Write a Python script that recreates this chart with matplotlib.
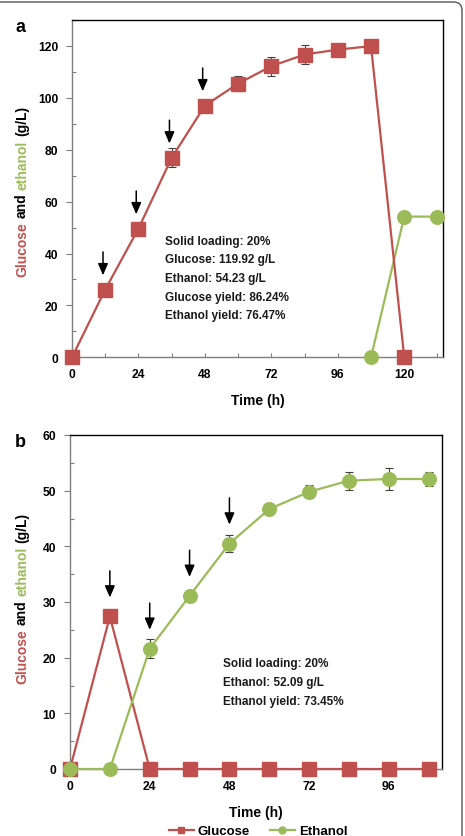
import matplotlib
matplotlib.use("Agg")
import matplotlib.pyplot as plt
from matplotlib.patches import FancyBboxPatch
from matplotlib.lines import Line2D
import numpy as np

plt.rcParams['font.family'] = ['Liberation Sans', 'DejaVu Sans']
plt.rcParams['font.weight'] = 'bold'

RED = '#C0504D'
GREEN = '#9BBB59'

# ---- Panel a data ----
a_glu_t = [0, 12, 24, 36, 48, 60, 72, 84, 96, 108, 120]
a_glu = [0, 26.1, 49.6, 76.9, 97.0, 105.5, 112.2, 116.7, 118.6, 119.92, 0]
a_glu_err = [0, 1.0, 1.0, 3.6, 2.0, 2.8, 3.6, 3.8, 2.0, 1.0, 0]
a_eth_t = [108, 120, 132]
a_eth = [0, 54.23, 54.23]
a_eth_err = [0, 0.5, 0.5]
a_arrow_t = [12, 24, 36, 48]
a_text = ["Solid loading: 20%", "Glucose: 119.92 g/L", "Ethanol: 54.23 g/L",
          "Glucose yield: 86.24%", "Ethanol yield: 76.47%"]
a_xticks = [0, 24, 48, 72, 96, 120]
a_yticks = [0, 20, 40, 60, 80, 100, 120]

# ---- Panel b data ----
b_t = [0, 12, 24, 36, 48, 60, 72, 84, 96, 108]
b_glu = [0, 27.4, 0, 0, 0, 0, 0, 0, 0, 0]
b_glu_err = [0, 1.0, 0, 0, 0, 0, 0, 0, 0, 0]
b_eth = [0, 0, 21.6, 31.1, 40.5, 46.7, 49.8, 51.8, 52.1, 52.09]
b_eth_err = [0, 0, 1.7, 1.0, 1.6, 1.0, 1.2, 1.6, 1.9, 1.2]
b_arrow_t = [12, 24, 36, 48]
b_text = ["Solid loading: 20%", "Ethanol: 52.09 g/L", "Ethanol yield: 73.45%"]
b_xticks = [0, 24, 48, 72, 96]
b_yticks = [0, 10, 20, 30, 40, 50, 60]

W, H = 465, 837
fig = plt.figure(figsize=(W / 100, H / 100), dpi=100)

# rounded figure border
border = FancyBboxPatch((-20 / W, -10 / H), 482 / W, (H - 3 + 10) / H,
                        boxstyle="round,pad=0,rounding_size=0.018",
                        transform=fig.transFigure, facecolor='none',
                        edgecolor='#555555', lw=1.0, mutation_aspect=W / H)
fig.patches.append(border)

ax_a = fig.add_axes([72 / W, 1 - 358.3 / H, 371 / W, 337.3 / H])
ax_b = fig.add_axes([70 / W, 1 - 770 / H, 372 / W, 334 / H])

ms = 9.8
lw = 1.6


def style_axes(ax, xlim, ylim, xticks, yticks, xminor, yminor):
    ax.set_xlim(*xlim)
    ax.set_ylim(*ylim)
    ax.set_xticks(xticks)
    ax.set_xticks(xminor, minor=True)
    ax.set_yticks(yticks)
    ax.set_yticks(yminor, minor=True)
    for s in ['top', 'right']:
        ax.spines[s].set_color('black')
        ax.spines[s].set_linewidth(1.0)
    for s in ['left', 'bottom']:
        ax.spines[s].set_color('#7f7f7f')
        ax.spines[s].set_linewidth(1.0)
    ax.tick_params(axis='y', which='major', direction='out', length=4,
                   width=0.8, color='#7f7f7f', labelsize=8.7, pad=6)
    ax.tick_params(axis='y', which='minor', direction='in', length=3,
                   width=0.8, color='#7f7f7f')
    ax.tick_params(axis='x', which='both', direction='in', length=3,
                   width=0.8, color='#7f7f7f', labelsize=8.7, pad=8)
    for lab in ax.get_xticklabels() + ax.get_yticklabels():
        lab.set_fontweight('bold')
    ax.set_xlabel("Time (h)", fontsize=10, fontweight='bold', labelpad=9)


def draw_series(ax, t, y, err, color, marker):
    ax.errorbar(t, y, yerr=err, fmt='none', ecolor='#404040', elinewidth=0.8,
                capsize=3, capthick=0.8, zorder=2)
    ax.plot(t, y, color=color, lw=lw, marker=marker, ms=ms,
            markerfacecolor=color, markeredgecolor=color, zorder=3,
            clip_on=False)


ARROW = dict(arrowstyle='-|>,head_width=0.3,head_length=0.7',
             color='black', lw=1.1, shrinkA=0, shrinkB=0)

# ---- Panel a ----
style_axes(ax_a, (0, 134), (0, 130), a_xticks, a_yticks,
           np.arange(0, 134, 12), np.arange(0, 131, 10))
draw_series(ax_a, a_eth_t, a_eth, a_eth_err, GREEN, 'o')
draw_series(ax_a, a_glu_t, a_glu, a_glu_err, RED, 's')
for t in a_arrow_t:
    v = a_glu[a_glu_t.index(t)]
    ax_a.annotate('', xy=(t - 0.8, v + 5.5), xytext=(t - 0.8, v + 14.5),
                  arrowprops=ARROW)
for i, s in enumerate(a_text):
    ax_a.text(33.5, 45 - i * 7.2, s, fontsize=8.5, fontweight='bold',
              va='center', ha='left', color='#1a1a1a')

# ---- Panel b ----
style_axes(ax_b, (0, 112), (0, 60), b_xticks, b_yticks,
           np.arange(0, 112, 12), np.arange(0, 61, 5))
draw_series(ax_b, b_t, b_glu, b_glu_err, RED, 's')
draw_series(ax_b, b_t, b_eth, b_eth_err, GREEN, 'o')
for t in b_arrow_t:
    i = b_t.index(t)
    v = max(b_glu[i], b_eth[i])
    ax_b.annotate('', xy=(t, v + 3.4), xytext=(t, v + 8.2), arrowprops=ARROW)
for i, s in enumerate(b_text):
    ax_b.text(46, 19.0 - i * 3.4, s, fontsize=8.5, fontweight='bold',
              va='center', ha='left', color='#1a1a1a')

# panel labels
fig.text(21 / W, 1 - 27 / H, 'a', fontsize=13, fontweight='bold', ha='center', va='center')
fig.text(20 / W, 1 - 443 / H, 'b', fontsize=13, fontweight='bold', ha='center', va='center')

# multicolor y labels
words = ["Glucose", "and", "ethanol", "(g/L)"]
wcolors = [RED, 'black', GREEN, 'black']
ylab_fs = 10
renderer = fig.canvas.get_renderer()


def text_width(s):
    t = fig.text(0, 0, s, fontsize=ylab_fs, fontweight='bold')
    w = t.get_window_extent(renderer).width
    t.remove()
    return w


full = " ".join(words)
total = text_width(full)
starts = []
for i, w in enumerate(words):
    prefix = " ".join(words[:i]) + (" " if i else "")
    starts.append(text_width(prefix + w) - text_width(w))


def ylabel_multi(xc, yc):
    y0 = yc - total / 2
    for w, c, st in zip(words, wcolors, starts):
        fig.text(xc / W, (y0 + st) / H, w, fontsize=ylab_fs, fontweight='bold',
                 color=c, rotation=90, rotation_mode='anchor',
                 ha='left', va='center')


ylabel_multi(22, H - 191.5)
ylabel_multi(22, H - 598.5)

# legend
h1 = Line2D([], [], color=RED, lw=lw, marker='s', ms=5)
h2 = Line2D([], [], color=GREEN, lw=lw, marker='o', ms=5)
leg = fig.legend([h1, h2], ["Glucose", "Ethanol"], ncol=2, loc='center',
                 bbox_to_anchor=(258 / W, 1 - 832 / H), frameon=False,
                 prop=dict(size=9.5, weight='bold'), handlelength=1.9,
                 handletextpad=0.3, columnspacing=1.5)

fig.savefig("out.png", dpi=100)
